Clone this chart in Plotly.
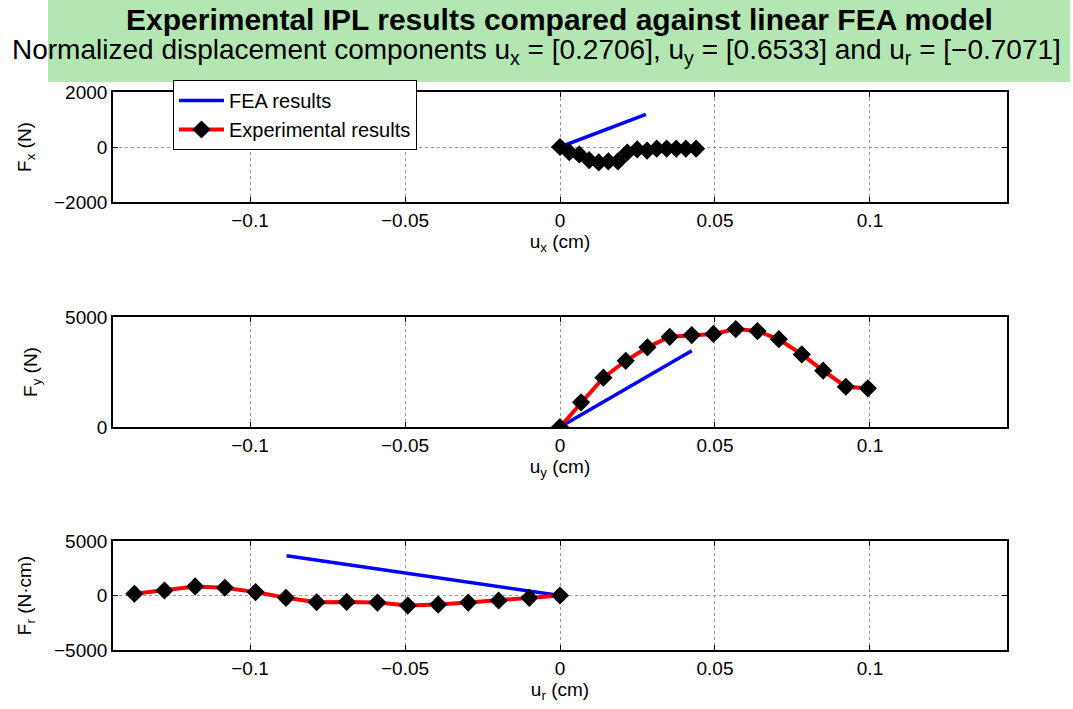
import plotly.graph_objects as go

# ---------------- data ----------------
ux_exp = [0.0, 0.0030, 0.0062, 0.0094, 0.0125, 0.0156, 0.0187, 0.0217, 0.0249, 0.0281, 0.0312, 0.0344, 0.0375, 0.0406, 0.0439]
fx_exp = [0, -190, -270, -480, -560, -520, -520, -200, -90, -130, -60, -60, -60, -60, -60]
ux_fea = [0.0, 0.0277]
fx_fea = [0, 1190]

uy_exp = [0.0, 0.0068, 0.0140, 0.0212, 0.0282, 0.0354, 0.0425, 0.0495, 0.0567, 0.0637, 0.0706, 0.0780, 0.0849, 0.0922, 0.0993]
fy_exp = [0, 1120, 2240, 3010, 3620, 4100, 4180, 4230, 4450, 4360, 3990, 3300, 2560, 1830, 1760]
uy_fea = [0.0, 0.0425]
fy_fea = [0, 3470]

ur_exp = [-0.1373, -0.1276, -0.1177, -0.1081, -0.0982, -0.0884, -0.0785, -0.0688, -0.0589, -0.0491, -0.0393, -0.0296, -0.0198, -0.0099, 0.0]
fr_exp = [160, 460, 830, 710, 310, -215, -620, -585, -650, -925, -835, -650, -460, -215, 0]
ur_fea = [0.0, -0.0882]
fr_fea = [0, 3640]

x_ticks = [-0.1, -0.05, 0, 0.05, 0.1]
x_ticktext = ["\u22120.1", "\u22120.05", "0", "0.05", "0.1"]
fx_ticks = [-2000, 0, 2000]
fx_ticktext = ["\u22122000", "0", "2000"]
fy_ticks = [0, 5000]
fy_ticktext = ["0", "5000"]
fr_ticks = [-5000, 0, 5000]
fr_ticktext = ["\u22125000", "0", "5000"]

W, H = 1073, 709
FONT = "Liberation Sans, Arial, sans-serif"
BLUE = "#0000ff"
RED = "#ff0000"
FS = 19

fig = go.Figure()

panels = [
    (ux_fea, fx_fea, ux_exp, fx_exp, "", ""),
    (uy_fea, fy_fea, uy_exp, fy_exp, "2", "2"),
    (ur_fea, fr_fea, ur_exp, fr_exp, "3", "3"),
]
for i, (xf, yf, xe, ye, xa, ya) in enumerate(panels):
    fig.add_trace(go.Scatter(x=xf, y=yf, mode="lines", line=dict(color=BLUE, width=3.5),
                             name="FEA results", showlegend=(i == 0),
                             xaxis="x" + xa, yaxis="y" + ya))
    fig.add_trace(go.Scatter(x=xe, y=ye, mode="lines+markers", line=dict(color=RED, width=4),
                             marker=dict(symbol="diamond", size=14, color="black",
                                         line=dict(color="black", width=0)),
                             name="Experimental results", showlegend=(i == 0),
                             xaxis="x" + xa, yaxis="y" + ya))

xdom = [113 / W, 1007 / W]
ydoms = [
    [1 - 202 / H, 1 - 92 / H],
    [1 - 427 / H, 1 - 317 / H],
    [1 - 650 / H, 1 - 541 / H],
]
xtitles = ["u<sub>x</sub> (cm)", "u<sub>y</sub> (cm)", "u<sub>r</sub> (cm)"]
ytitles = ["F<sub>x</sub> (N)", "F<sub>y</sub> (N)", "F<sub>r</sub> (N\u00b7cm)"]
yranges = [[-2000, 2000], [0, 5000], [-5000, 5000]]
yticks = [(fx_ticks, fx_ticktext), (fy_ticks, fy_ticktext), (fr_ticks, fr_ticktext)]
ystand = [17, 22, 17]

axis_common = dict(
    showline=True, linecolor="black", linewidth=1.6, mirror="ticks",
    ticks="inside", ticklen=5, tickcolor="black", tickwidth=1,
    showgrid=True, gridcolor="#999999", griddash="dot", gridwidth=1,
    zeroline=False, automargin=False,
    tickfont=dict(family=FONT, size=FS, color="black"),
)
layout_axes = {}
for i in range(3):
    suf = "" if i == 0 else str(i + 1)
    layout_axes["xaxis" + suf] = dict(
        axis_common, domain=xdom, range=[-0.1442, 0.1442], anchor="y" + suf,
        tickvals=x_ticks, ticktext=x_ticktext,
        title=dict(text=xtitles[i], standoff=2, font=dict(family=FONT, size=FS, color="black")),
    )
    layout_axes["yaxis" + suf] = dict(
        axis_common, domain=ydoms[i], range=yranges[i], anchor="x" + suf,
        tickvals=yticks[i][0], ticktext=yticks[i][1],
        title=dict(text=ytitles[i], standoff=ystand[i], font=dict(family=FONT, size=FS, color="black")),
    )

fig.update_layout(
    width=W, height=H,
    margin=dict(l=0, r=0, t=0, b=0),
    paper_bgcolor="white", plot_bgcolor="white",
    font=dict(family=FONT, size=FS, color="black"),
    showlegend=True,
    legend=dict(x=173 / W, y=1 - 80 / H, xanchor="left", yanchor="top",
                bgcolor="white", bordercolor="black", borderwidth=1,
                font=dict(family=FONT, size=20, color="black"),
                tracegroupgap=0, itemwidth=45),
    shapes=[dict(type="rect", xref="paper", yref="paper",
                 x0=48 / W, x1=1070 / W, y0=1 - 82 / H, y1=1,
                 fillcolor="#b3e6b3", line=dict(width=0), layer="below")],
    annotations=[
        dict(text="<b>Experimental IPL results compared against linear FEA model</b>",
             x=560 / W, y=1 - 20 / H, xref="paper", yref="paper",
             xanchor="center", yanchor="middle", showarrow=False,
             font=dict(family=FONT, size=30, color="black")),
        dict(text="Normalized displacement components u<sub>x</sub> = [0.2706], u<sub>y</sub> = [0.6533] and u<sub>r</sub> = [\u22120.7071]",
             x=536 / W, y=1 - 51 / H, xref="paper", yref="paper",
             xanchor="center", yanchor="middle", showarrow=False,
             font=dict(family=FONT, size=28, color="black")),
    ],
    **layout_axes,
)

fig.write_html("out.html")
